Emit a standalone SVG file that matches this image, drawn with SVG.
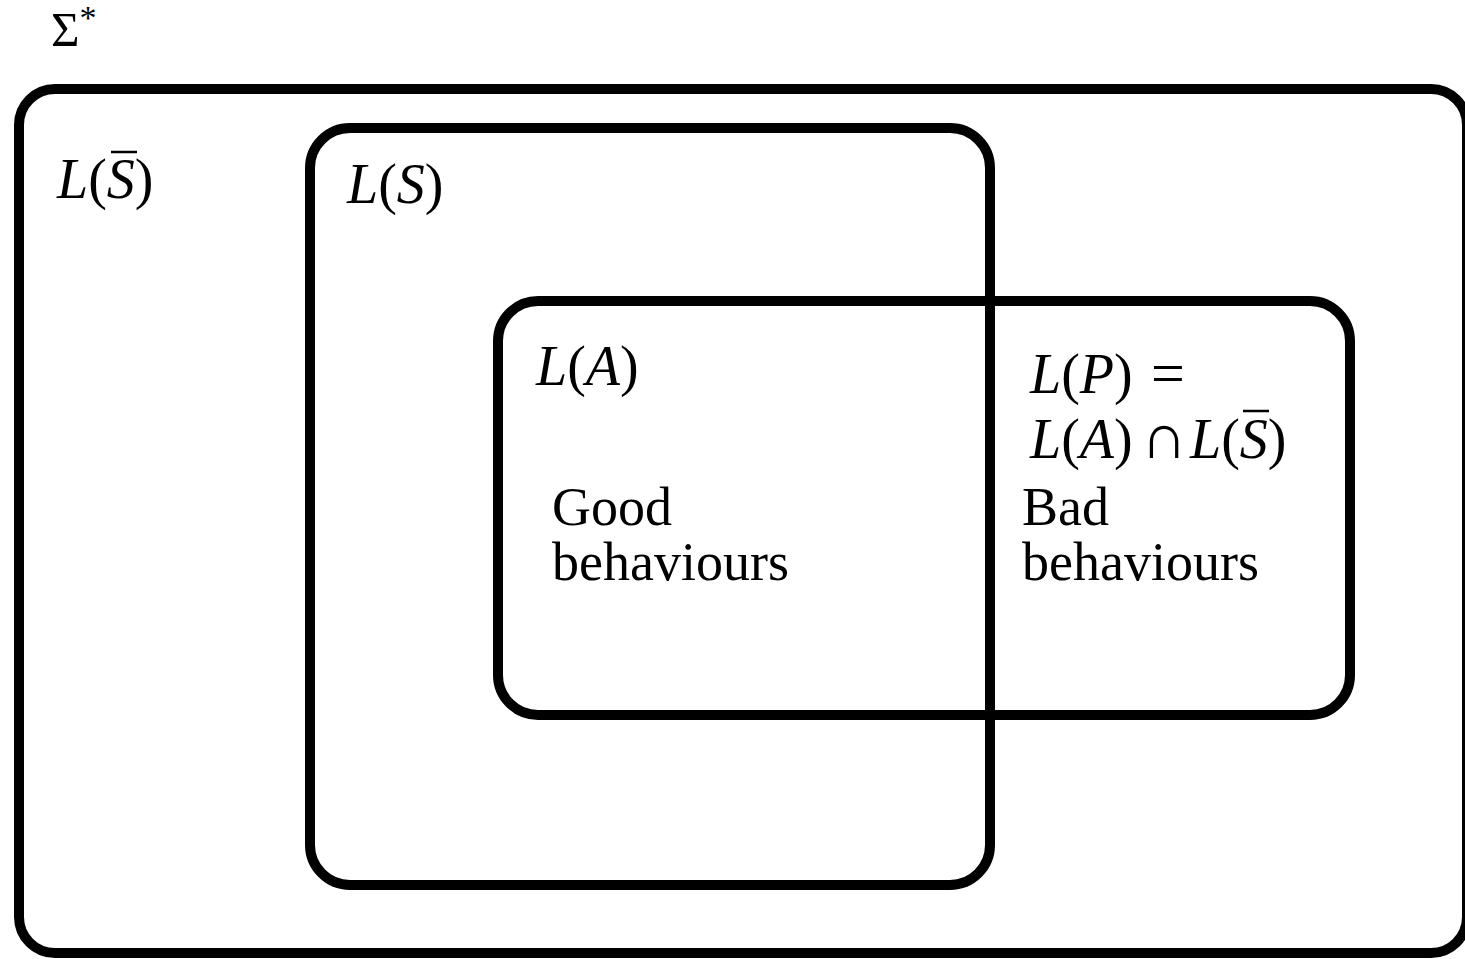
<svg xmlns="http://www.w3.org/2000/svg" width="1465" height="959" viewBox="0 0 1465 959">
<style>
.box{fill:none;stroke:#000;stroke-width:10}
.m{font-family:"Liberation Serif",serif;font-style:italic;font-size:56px;fill:#000}
.r{font-family:"Liberation Serif",serif;font-style:normal}
.t{font-family:"Liberation Serif",serif;font-size:54px;fill:#000}
.ov{stroke:#000;stroke-width:2.5}
</style>
<rect width="1465" height="959" fill="#fff"/>
<text x="51" y="46" class="t" style="font-size:49px">Σ<tspan dy="-17" font-size="34">*</tspan></text>
<g id="sigma">
<rect class="box" x="19" y="89" width="1448" height="864" rx="36"/>
<text class="m" x="57" y="198">L<tspan class="r">(</tspan>S<tspan class="r">)</tspan></text>
<line class="ov" x1="111" y1="152" x2="137" y2="152"/>
</g>
<g id="LS">
<rect class="box" x="310" y="128" width="680" height="757" rx="40"/>
<text class="m" x="347" y="203">L<tspan class="r">(</tspan>S<tspan class="r">)</tspan></text>
</g>
<g id="LA">
<rect class="box" x="498" y="301" width="852" height="414" rx="40"/>
<text class="m" x="536" y="385">L<tspan class="r">(</tspan>A<tspan class="r">)</tspan></text>
<text class="t" x="552" y="525">Good</text>
<text class="t" x="552" y="580">behaviours</text>
</g>
<g id="LP">
<text class="m" x="1030" y="393">L<tspan class="r">(</tspan>P<tspan class="r">)</tspan></text>
<text class="t" x="1151" y="393" style="font-size:60px">=</text>
<text class="m" x="1030" y="458">L<tspan class="r">(</tspan>A<tspan class="r">)</tspan></text>
<text class="t" x="1141" y="458" style="font-size:64px">∩</text>
<text class="m" x="1190" y="458">L<tspan class="r">(</tspan>S<tspan class="r">)</tspan></text>
<line class="ov" x1="1243" y1="411" x2="1269" y2="411"/>
<text class="t" x="1022" y="525">Bad</text>
<text class="t" x="1022" y="580">behaviours</text>
</g>
<g id="connectors"/>
</svg>
